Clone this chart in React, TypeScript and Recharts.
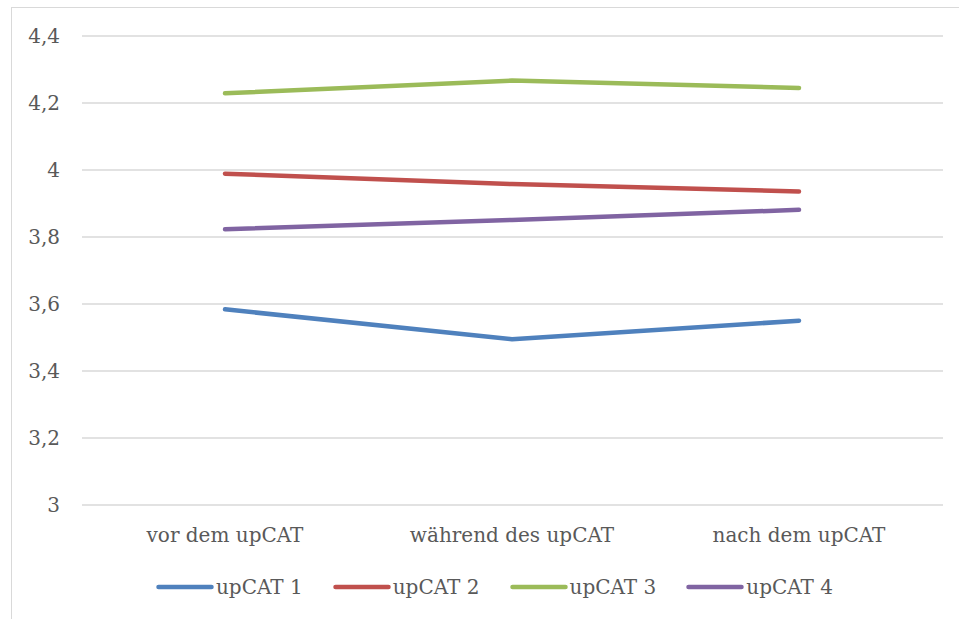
import React from "react";
import { LineChart, Line, XAxis, YAxis, CartesianGrid } from "recharts";

// Zeitpunkte relativ zum upCAT
const categories = ["vor dem upCAT", "während des upCAT", "nach dem upCAT"];

// Mittelwerte je upCAT-Gruppe
const upcat1 = [3.584, 3.495, 3.55];
const upcat2 = [3.989, 3.958, 3.936];
const upcat3 = [4.229, 4.267, 4.245];
const upcat4 = [3.823, 3.851, 3.881];

const yTicks = [3, 3.2, 3.4, 3.6, 3.8, 4, 4.2, 4.4];

const seriesNames = ["upCAT 1", "upCAT 2", "upCAT 3", "upCAT 4"];
const seriesColors = ["#4F81BD", "#C0504D", "#9BBB59", "#8064A2"];
const seriesValues = [upcat1, upcat2, upcat3, upcat4];

const data = categories.map((c, i) => {
  const row: Record<string, string | number> = { name: c };
  seriesNames.forEach((s, k) => {
    row[s] = seriesValues[k][i];
  });
  return row;
});

const FONT = "'DejaVu Serif', serif";
const TEXT = "#595959";
const FS = 20;

const fmt = (v: number) => String(Math.round(v * 10) / 10).replace(".", ",");

const LegendBox = () => (
  <div
    style={{
      position: "absolute",
      left: 0,
      top: 574,
      width: 959,
      display: "flex",
      justifyContent: "center",
      paddingLeft: 30,
      boxSizing: "border-box",
      fontFamily: FONT,
      fontSize: FS,
      color: TEXT,
      lineHeight: "26px",
    }}
  >
    {seriesNames.map((s, k) => (
      <div key={s} style={{ display: "flex", alignItems: "center", marginRight: k < 3 ? 30 : 0 }}>
        <svg width={58} height={10} style={{ marginRight: 2 }}>
          <line x1={2.5} y1={5} x2={55.5} y2={5} stroke={seriesColors[k]} strokeWidth={4.5} strokeLinecap="round" />
        </svg>
        <span>{s}</span>
      </div>
    ))}
  </div>
);

export default function App() {
  return (
    <div style={{ position: "absolute", left: 0, top: 0, width: 959, height: 619, background: "#fff", overflow: "hidden" }}>
      <div
        style={{
          position: "absolute",
          left: 11,
          top: 7,
          width: 1000,
          height: 700,
          border: "1px solid #D9D9D9",
          boxSizing: "border-box",
        }}
      />
      <div style={{ position: "absolute", left: 0, top: 0 }}>
        <LineChart width={959} height={619} data={data} margin={{ top: 36, right: 16, bottom: 84, left: 0 }}>
          <CartesianGrid vertical={false} stroke="#D9D9D9" strokeWidth={1.5} />
          <XAxis
            dataKey="name"
            axisLine={false}
            tickLine={false}
            tickSize={0}
            tickMargin={23}
            padding={{ left: 143, right: 144 }}
            interval={0}
            tick={{ fill: TEXT, fontSize: FS, fontFamily: FONT }}
          />
          <YAxis
            type="number"
            domain={[3, 4.4]}
            ticks={yTicks}
            width={82}
            axisLine={false}
            tickLine={false}
            tickSize={0}
            tickMargin={22}
            tickFormatter={fmt}
            tick={{ fill: TEXT, fontSize: FS, fontFamily: FONT }}
          />
          {seriesNames.map((s, k) => (
            <Line
              key={s}
              dataKey={s}
              stroke={seriesColors[k]}
              strokeWidth={4.5}
              strokeLinecap="round"
              strokeLinejoin="round"
              dot={false}
              activeDot={false}
              isAnimationActive={false}
            />
          ))}
        </LineChart>
      </div>
      <LegendBox />
    </div>
  );
}
